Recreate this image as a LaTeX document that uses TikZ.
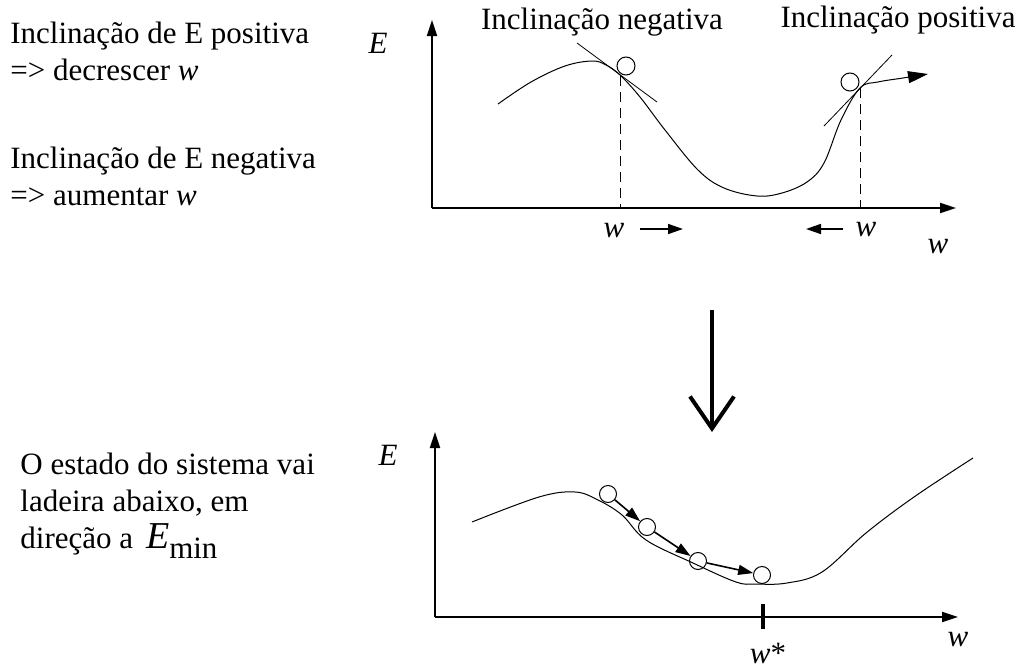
\documentclass[tikz,border=0pt]{standalone}
\usepackage{fontspec}
\setmainfont{Liberation Serif}
\usetikzlibrary{arrows.meta}

\begin{document}
\begin{tikzpicture}[x=0.5pt, y=-0.5pt, every node/.style={font=\fontsize{15.5}{18.5}\selectfont}]
\tikzset{
  axis/.style={line width=1pt, -{Triangle[length=8pt,width=5pt]}},
  curve/.style={line width=0.5pt},
  tang/.style={line width=0.4pt},
  guide/.style={line width=0.5pt, dash pattern=on 5pt off 3pt},
  ball/.style={circle, draw, line width=0.5pt, minimum size=8.5pt, inner sep=0pt},
  push/.style={line width=0.8pt, -{Triangle[length=7.5pt,width=5pt]}},
}
\useasboundingbox (0,0) rectangle (1023,669);
% texts on the left
\node[anchor=north west, inner sep=0pt, align=left] (rulepos) at (10,22)
  {Inclinação de E positiva\\=> decrescer \textit{w}};
\node[anchor=north west, inner sep=0pt, align=left] (ruleneg) at (10,147)
  {Inclinação de E negativa\\=> aumentar \textit{w}};
\node[anchor=north west, inner sep=0pt, align=left] (state) at (20,453)
  {O estado do sistema vai\\ladeira abaixo, em\\direção a \,{\fontsize{19}{19}\selectfont\textit{E}}\raisebox{-0.7ex}{min}};
% upper graph: axes
\coordinate (oa) at (432,208);
\coordinate (ya) at (432,20);
\coordinate (xa) at (956,208);
\draw[axis] (oa) -- (ya);
\draw[axis] (oa) -- (xa);
\node (ea) at (378,43) {\textit{E}};
\node (wa) at (938,247) {\textit{w}};
% upper curve
\draw[curve, -{Triangle[length=10pt,width=6pt]}] plot[smooth, tension=0.6] coordinates {
  (498,104) (531,82) (565,66) (592,61) (606,65) (620,75) (640,97) (665,130)
  (698,170) (724,188) (757,196) (782,193) (807,182) (824,163) (841,120)
  (860,88) (878,82) (903,78) (928,74)};
% tangents and balls
\coordinate (ta1) at (577,43);
\coordinate (ta2) at (657,102);
\coordinate (tb1) at (824,126);
\coordinate (tb2) at (892,55);
\draw[tang] (ta1) -- (ta2);
\draw[tang] (tb1) -- (tb2);
\node[ball, minimum size=9pt] (bl) at (626,66) {};
\node[ball, minimum size=9pt] (br) at (850,82) {};
\node (slopeneg) at (602,22) {Inclinação negativa};
\node (slopepos) at (898,20) {Inclinação positiva};
% dashed guides
\coordinate (pl) at (620,76);
\coordinate (pr) at (860,88);
\draw[guide] (pl) -- (pl |- oa);
\draw[guide] (pr) -- (pr |- oa);
% steps of w
\node (wl) at (614,231) {\textit{w}};
\node (wr) at (866,230) {\textit{w}};
\coordinate (al1) at (640,229);
\coordinate (al2) at (683,229);
\coordinate (ar1) at (843,229);
\coordinate (ar2) at (806,229);
\draw[push] (al1) -- (al2);
\draw[push] (ar1) -- (ar2);
% big arrow down
\coordinate (down1) at (712,310);
\coordinate (down2) at (712,432);
\draw[line width=2pt, -{Straight Barb[length=16pt,width=22pt]}] (down1) -- (down2);
% lower graph: axes
\coordinate (ob) at (435,617);
\coordinate (yb) at (435,432);
\coordinate (xb) at (958,617);
\draw[axis] (ob) -- (yb);
\draw[axis] (ob) -- (xb);
\node (eb) at (388,455) {\textit{E}};
\node (wb) at (958,640) {\textit{w}};
% lower curve
\draw[curve] plot[smooth, tension=0.6] coordinates {
  (472,522) (539,497) (575,492) (598,500) (622,515) (646,540) (693,563)
  (736,582) (756,584) (787,583) (822,572) (866,533) (914,497) (973,458)};
% balls rolling down
\node[ball] (b1) at (608,494) {};
\node[ball] (b2) at (647,527) {};
\node[ball] (b3) at (698,561) {};
\node[ball] (b4) at (762,575) {};
\draw[push] (b1) -- (b2);
\draw[push] (b2) -- (b3);
\draw[push] (b3) -- (b4);
% minimum
\coordinate (tk1) at (763,604);
\coordinate (tk2) at (763,629);
\draw[line width=2pt] (tk1) -- (tk2);
\node (wstar) at (768,653) {\textit{w}*};
\end{tikzpicture}
\end{document}
